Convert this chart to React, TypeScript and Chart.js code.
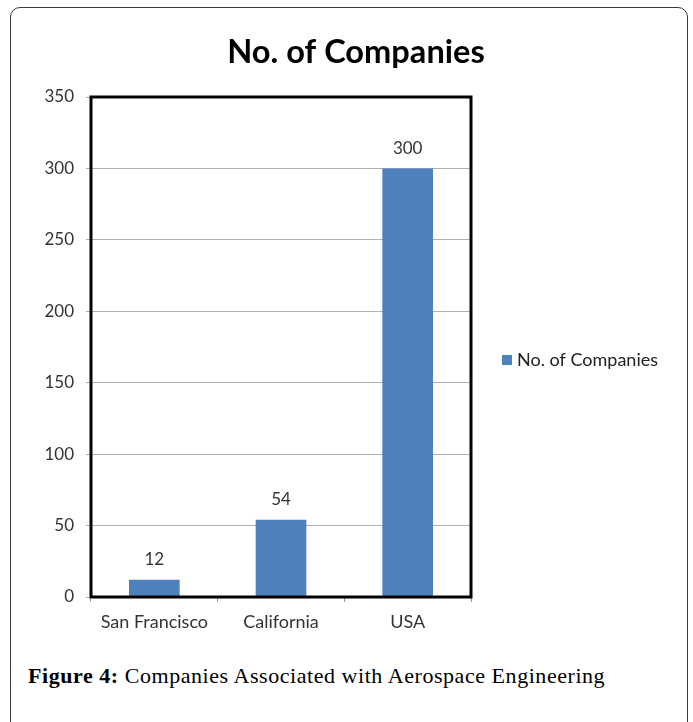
import React, { useEffect, useRef } from "react";
import { Chart, registerables } from "chart.js";

Chart.register(...registerables);

const categories = ["San Francisco", "California", "USA"];
const companies = [12, 54, 300];
const seriesName = "No. of Companies";
const chartTitle = "No. of Companies";
const yMin = 0;
const yMax = 350;
const yStep = 50;
const captionLabel = "Figure 4:";
const captionText = " Companies Associated with Aerospace Engineering";

const FONT = "Lato, 'Open Sans', sans-serif";
const CANVAS_W = 693;
const CANVAS_H = 640;
const BAR_COLOR = "#4F81BD";

export default function App() {
  const ref = useRef<HTMLCanvasElement>(null);

  useEffect(() => {
    if (!ref.current) return;

    const framePlugin = {
      id: "plotFrame",
      afterDraw(chart: any) {
        const { ctx, chartArea } = chart;
        const { left, top, right, bottom } = chartArea;
        ctx.save();
        ctx.strokeStyle = "#000";
        ctx.lineWidth = 3;
        ctx.strokeRect(left, top, right - left, bottom - top);
        ctx.restore();
      },
    };

    const titleAndLegend = {
      id: "titleAndLegend",
      afterDraw(chart: any) {
        const { ctx, chartArea } = chart;
        ctx.save();
        // title
        ctx.font = `bold 32.6px ${FONT}`;
        ctx.fillStyle = "#000";
        ctx.textAlign = "center";
        ctx.textBaseline = "middle";
        ctx.fillText(chartTitle, 356, 52);
        // legend
        const ds = chart.data.datasets[0];
        const lx = chartArea.right + 31;
        const ly = 360;
        ctx.fillStyle = ds.backgroundColor;
        ctx.fillRect(lx, ly - 5, 10, 10);
        ctx.font = `18px ${FONT}`;
        ctx.fillStyle = "#222";
        ctx.textAlign = "left";
        ctx.fillText(ds.label, lx + 15, ly);
        ctx.restore();
      },
    };

    const valueLabels = {
      id: "valueLabels",
      afterDatasetsDraw(chart: any) {
        const { ctx } = chart;
        const meta = chart.getDatasetMeta(0);
        ctx.save();
        ctx.font = `17px ${FONT}`;
        ctx.fillStyle = "#333";
        ctx.textAlign = "center";
        ctx.textBaseline = "middle";
        meta.data.forEach((bar: any, i: number) => {
          ctx.fillText(String(companies[i]), bar.x, bar.y - 20);
        });
        ctx.restore();
      },
    };

    const chart = new Chart(ref.current, {
      type: "bar",
      data: {
        labels: categories,
        datasets: [
          {
            label: seriesName,
            data: companies,
            backgroundColor: BAR_COLOR,
            borderWidth: 0,
            categoryPercentage: 1,
            barPercentage: 0.4,
          },
        ],
      },
      options: {
        responsive: false,
        animation: false,
        devicePixelRatio: 1,
        layout: { padding: { left: 0, right: 222, top: 97, bottom: 0 } },
        plugins: {
          title: { display: false },
          legend: { display: false },
          tooltip: { enabled: false },
        },
        scales: {
          x: {
            grid: {
              offset: true,
              drawOnChartArea: false,
              drawTicks: true,
              tickLength: 5,
              color: "#999",
            },
            border: { display: false },
            ticks: {
              color: "#333",
              padding: 9,
              font: { family: FONT, size: 18 },
              maxRotation: 0,
            },
            afterFit(scale: any) {
              scale.height = CANVAS_H - 597;
            },
          },
          y: {
            min: yMin,
            max: yMax,
            ticks: {
              stepSize: yStep,
              color: "#333",
              padding: 12,
              font: { family: FONT, size: 17 },
            },
            grid: {
              color: "#b0b0b0",
              lineWidth: 1,
              tickLength: 5,
            },
            border: { display: false },
            afterFit(scale: any) {
              scale.width = 91;
            },
          },
        },
      },
      plugins: [framePlugin, valueLabels, titleAndLegend],
    });

    return () => chart.destroy();
  }, []);

  return (
    <div
      style={{
        position: "absolute",
        left: 0,
        top: 0,
        width: 693,
        height: 722,
        background: "#fff",
        overflow: "hidden",
      }}
    >
      <div
        style={{
          position: "absolute",
          left: 10,
          top: 7,
          width: 676,
          height: 760,
          border: "1.5px solid #3a3a3a",
          borderRadius: 10,
        }}
      />
      <canvas
        ref={ref}
        width={CANVAS_W}
        height={CANVAS_H}
        style={{ position: "absolute", left: 0, top: 0, width: CANVAS_W, height: CANVAS_H }}
      />
      <div
        style={{
          position: "absolute",
          left: 28,
          top: 663,
          fontFamily: "'Liberation Serif', 'Times New Roman', serif",
          fontSize: 22,
          letterSpacing: "0.55px",
          lineHeight: "normal",
          color: "#000",
          whiteSpace: "nowrap",
        }}
      >
        <b>{captionLabel}</b>
        {captionText}
      </div>
    </div>
  );
}
